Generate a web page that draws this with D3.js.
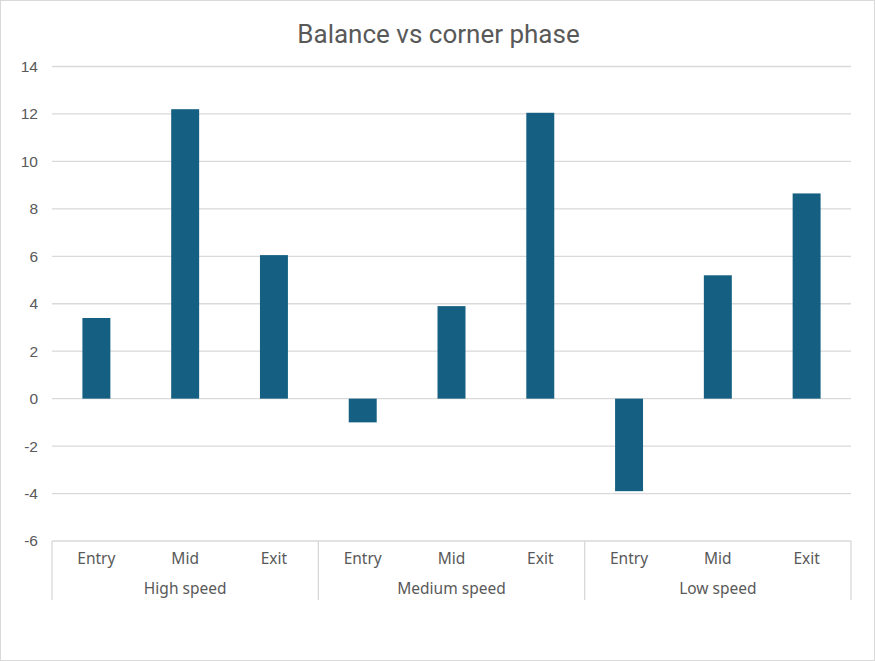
<!DOCTYPE html>
<html>
<head>
<meta charset="utf-8">
<script src="https://cdn.jsdelivr.net/npm/d3@7"></script>
<style>
  body { margin: 0; background: #fff; }
  text { fill: #595959; }
</style>
</head>
<body>
<div id="chart"></div>
<script>
const groups = ["High speed", "Medium speed", "Low speed"];
const phases = ["Entry", "Mid", "Exit"];
const balance = [3.4, 12.2, 6.05, -1.0, 3.9, 12.05, -3.9, 5.2, 8.65];
const yTicks = [-6, -4, -2, 0, 2, 4, 6, 8, 10, 12, 14];

const W = 875, H = 661;
const margin = { LEFT: 52, RIGHT: 24, TOP: 66.5, BOTTOM: 120 };
const innerW = W - margin.LEFT - margin.RIGHT;
const innerH = H - margin.TOP - margin.BOTTOM;

const svg = d3.select("#chart").append("svg")
  .attr("width", W)
  .attr("height", H);

svg.append("rect")
  .attr("x", 0.5).attr("y", 0.5)
  .attr("width", W - 1).attr("height", H - 1)
  .attr("fill", "#fff")
  .attr("stroke", "#d9d9d9");

svg.append("text")
  .attr("x", W / 2 + 1)
  .attr("y", 43)
  .attr("text-anchor", "middle")
  .attr("font-family", "'Liberation Sans Narrow', 'Roboto', sans-serif")
  .attr("font-size", "26px")
  .text("Balance vs corner phase");

const g = svg.append("g")
  .attr("transform", `translate(${margin.LEFT}, ${margin.TOP})`);

// categories: group|phase
const cats = [];
groups.forEach(gr => phases.forEach(p => cats.push({ group: gr, phase: p })));
const data = cats.map((c, i) => ({ ...c, value: balance[i], key: c.group + "|" + c.phase }));

const x = d3.scaleBand()
  .domain(data.map(d => d.key))
  .range([0, innerW])
  .paddingInner(0.685)
  .paddingOuter(0.3425);

const y = d3.scaleLinear()
  .domain([-6, 14])
  .range([innerH, 0]);

// gridlines
g.append("g")
  .selectAll("line")
  .data(yTicks.filter(t => t > -6))
  .join("line")
  .attr("x1", 0).attr("x2", innerW)
  .attr("y1", d => y(d)).attr("y2", d => y(d))
  .attr("stroke", "#d9d9d9")
  .attr("stroke-width", 1.3);

// y labels
g.append("g")
  .selectAll("text")
  .data(yTicks)
  .join("text")
  .attr("x", -14)
  .attr("y", d => y(d))
  .attr("dy", "0.35em")
  .attr("text-anchor", "end")
  .attr("font-family", "'Liberation Sans', Arial, sans-serif")
  .attr("font-size", "15.5px")
  .text(d => d);

// bars
g.append("g")
  .selectAll("rect")
  .data(data)
  .join("rect")
  .attr("x", d => x(d.key))
  .attr("width", x.bandwidth())
  .attr("y", d => y(Math.max(0, d.value)))
  .attr("height", d => Math.abs(y(d.value) - y(0)))
  .attr("fill", "#156082");

// category axis
const axisY = innerH;
const step = innerW / data.length;
g.append("line")
  .attr("x1", 0).attr("x2", innerW)
  .attr("y1", axisY).attr("y2", axisY)
  .attr("stroke", "#d9d9d9").attr("stroke-width", 1.3);

g.append("g")
  .selectAll("line")
  .data(d3.range(groups.length + 1))
  .join("line")
  .attr("x1", i => i * step * phases.length)
  .attr("x2", i => i * step * phases.length)
  .attr("y1", axisY).attr("y2", axisY + 59)
  .attr("stroke", "#d9d9d9").attr("stroke-width", 1.3);

g.append("g")
  .selectAll("text")
  .data(data)
  .join("text")
  .attr("x", d => x(d.key) + x.bandwidth() / 2)
  .attr("y", axisY + 23)
  .attr("text-anchor", "middle")
  .attr("font-family", "'Noto Sans', 'Open Sans', sans-serif")
  .attr("font-size", "15.5px")
  .text(d => d.phase);

g.append("g")
  .selectAll("text")
  .data(groups)
  .join("text")
  .attr("x", (d, i) => (i + 0.5) * step * phases.length)
  .attr("y", axisY + 53)
  .attr("text-anchor", "middle")
  .attr("font-family", "'Noto Sans', 'Open Sans', sans-serif")
  .attr("font-size", "15.5px")
  .text(d => d);
</script>
</body>
</html>
